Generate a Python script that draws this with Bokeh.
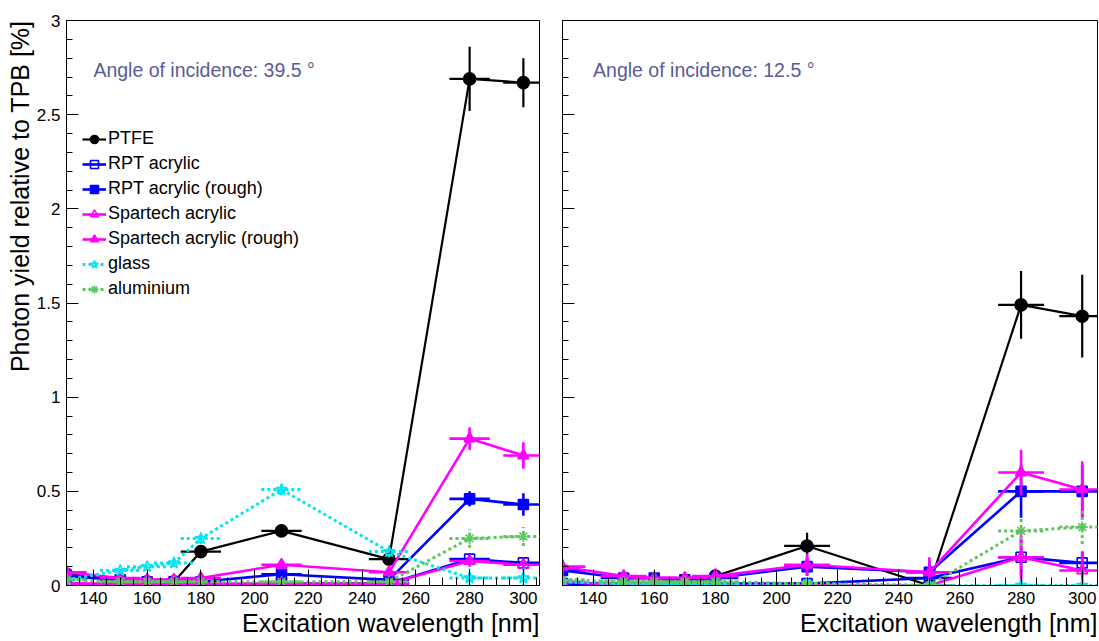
from bokeh.plotting import figure
from bokeh.layouts import row
from bokeh.models import (ColumnDataSource, Legend, LegendItem, Label, Title,
                          SingleIntervalTicker, Range1d, CustomLabelingPolicy)
from bokeh.embed import file_html
from bokeh.resources import INLINE

# Excitation wavelengths [nm] and their half-widths
wavelength = [130, 150, 160, 170, 180, 210, 250, 280, 300]
wavelength_err = [7.5, 7.5, 7.5, 7.5, 7.5, 7.5, 7.5, 7.5, 7.5]

# Photon yield relative to TPB [%], angle of incidence 39.5 deg
ptfe_395 = [0.06, 0.03, 0.02, 0.02, 0.18, 0.29, 0.14, 2.69, 2.67]
ptfe_395_err = [0.01, 0.01, 0.01, 0.01, 0.02, 0.02, 0.02, 0.17, 0.13]
rpt_395 = [0.00, 0.00, 0.00, 0.00, 0.00, 0.01, 0.01, 0.14, 0.12]
rpt_395_err = [0.01, 0.01, 0.01, 0.01, 0.01, 0.01, 0.01, 0.03, 0.03]
rpt_rough_395 = [0.05, 0.03, 0.02, 0.02, 0.02, 0.06, 0.03, 0.46, 0.43]
rpt_rough_395_err = [0.01, 0.01, 0.01, 0.01, 0.01, 0.02, 0.01, 0.04, 0.06]
spartech_395 = [0.01, 0.01, 0.01, 0.01, 0.01, 0.01, 0.01, 0.13, 0.11]
spartech_395_err = [0.01, 0.01, 0.01, 0.01, 0.01, 0.01, 0.01, 0.03, 0.03]
spartech_rough_395 = [0.07, 0.04, 0.03, 0.03, 0.04, 0.11, 0.07, 0.78, 0.69]
spartech_rough_395_err = [0.02, 0.01, 0.01, 0.01, 0.01, 0.02, 0.02, 0.06, 0.07]
glass_395 = [0.03, 0.08, 0.10, 0.12, 0.25, 0.51, 0.18, 0.04, 0.04]
glass_395_err = [0.01, 0.01, 0.01, 0.02, 0.03, 0.03, 0.03, 0.05, 0.05]
alu_395 = [0.03, 0.02, 0.02, 0.02, 0.02, 0.02, 0.02, 0.25, 0.26]
alu_395_err = [0.01, 0.01, 0.01, 0.01, 0.01, 0.01, 0.01, 0.05, 0.05]

# Photon yield relative to TPB [%], angle of incidence 12.5 deg
ptfe_125 = [0.01, 0.01, 0.01, 0.01, 0.05, 0.21, 0.00, 1.49, 1.43]
ptfe_125_err = [0.01, 0.01, 0.01, 0.01, 0.01, 0.07, 0.01, 0.18, 0.22]
rpt_125 = [0.01, 0.01, 0.01, 0.01, 0.01, 0.01, 0.04, 0.15, 0.12]
rpt_125_err = [0.01, 0.01, 0.01, 0.01, 0.01, 0.01, 0.03, 0.10, 0.06]
rpt_rough_125 = [0.08, 0.04, 0.04, 0.03, 0.04, 0.10, 0.07, 0.50, 0.50]
rpt_rough_125_err = [0.03, 0.02, 0.02, 0.02, 0.03, 0.05, 0.06, 0.14, 0.14]
spartech_125 = [0.02, 0.00, 0.00, 0.00, 0.00, 0.00, 0.00, 0.15, 0.08]
spartech_125_err = [0.02, 0.01, 0.01, 0.01, 0.01, 0.01, 0.01, 0.15, 0.10]
spartech_rough_125 = [0.10, 0.05, 0.04, 0.04, 0.05, 0.11, 0.07, 0.60, 0.51]
spartech_rough_125_err = [0.04, 0.02, 0.02, 0.02, 0.04, 0.06, 0.08, 0.12, 0.15]
glass_125 = [0.02, 0.01, 0.01, 0.01, 0.01, 0.01, 0.00, 0.00, 0.00]
glass_125_err = [0.01, 0.01, 0.01, 0.01, 0.01, 0.01, 0.01, 0.01, 0.01]
alu_125 = [0.03, 0.02, 0.02, 0.02, 0.02, 0.01, 0.00, 0.29, 0.31]
alu_125_err = [0.01, 0.01, 0.01, 0.01, 0.01, 0.01, 0.01, 0.08, 0.09]

series_names = ["PTFE", "RPT acrylic", "RPT acrylic (rough)", "Spartech acrylic",
                "Spartech acrylic (rough)", "glass", "aluminium"]

FONT = "Liberation Sans"
ANGLE_COLOR = "#5B5B96"

# name -> (colour, marker, filled, dashed, marker size, line width)
styles = {
    "PTFE": ("black", "circle", True, False, 12, 2.2),
    "RPT acrylic": ("#0000FF", "square", False, False, 10, 2.6),
    "RPT acrylic (rough)": ("#0000FF", "square", True, False, 10, 2.6),
    "Spartech acrylic": ("#FF00FF", "triangle", False, False, 11, 2.6),
    "Spartech acrylic (rough)": ("#FF00FF", "triangle", True, False, 11, 2.6),
    "glass": ("#00E5EE", "star", False, True, 12, 3),
    "aluminium": ("#5CC85C", "asterisk", False, True, 11, 3),
}

data_395 = {
    "PTFE": (ptfe_395, ptfe_395_err),
    "RPT acrylic": (rpt_395, rpt_395_err),
    "RPT acrylic (rough)": (rpt_rough_395, rpt_rough_395_err),
    "Spartech acrylic": (spartech_395, spartech_395_err),
    "Spartech acrylic (rough)": (spartech_rough_395, spartech_rough_395_err),
    "glass": (glass_395, glass_395_err),
    "aluminium": (alu_395, alu_395_err),
}
data_125 = {
    "PTFE": (ptfe_125, ptfe_125_err),
    "RPT acrylic": (rpt_125, rpt_125_err),
    "RPT acrylic (rough)": (rpt_rough_125, rpt_rough_125_err),
    "Spartech acrylic": (spartech_125, spartech_125_err),
    "Spartech acrylic (rough)": (spartech_rough_125, spartech_rough_125_err),
    "glass": (glass_125, glass_125_err),
    "aluminium": (alu_125, alu_125_err),
}

# hides every tick label of an axis while keeping its ticks
no_labels = CustomLabelingPolicy(code="""
    for (const i of indices)
        indices.unset(i)
    return indices
""")


def make_panel(data, angle_text, x_end, frame_width, border_left, border_right,
               show_y_labels, with_legend):
    p = figure(frame_width=frame_width, frame_height=565,
               x_range=Range1d(130, x_end), y_range=Range1d(0, 3),
               output_backend="svg", toolbar_location=None,
               min_border_left=border_left, min_border_right=border_right,
               min_border_top=20, min_border_bottom=56)
    p.xgrid.visible = False
    p.ygrid.visible = False
    p.outline_line_color = "black"
    p.outline_line_width = 1
    p.background_fill_color = "white"
    p.border_fill_color = "white"

    p.xaxis.ticker = SingleIntervalTicker(interval=20, num_minor_ticks=4)
    p.yaxis.ticker = SingleIntervalTicker(interval=0.5, num_minor_ticks=5)
    for ax in (p.xaxis, p.yaxis):
        ax.major_tick_out = 0
        ax.minor_tick_out = 0
        ax.axis_line_color = "black"
        ax.major_tick_line_color = "black"
        ax.minor_tick_line_color = "black"
        ax.major_label_text_font = FONT
        ax.major_label_text_font_size = "17px"
        ax.major_label_text_color = "black"
    p.xaxis.major_tick_in = 16
    p.xaxis.minor_tick_in = 8
    p.yaxis.major_tick_in = 12
    p.yaxis.minor_tick_in = 6
    p.xaxis.major_label_standoff = 6
    p.yaxis.major_label_standoff = 6
    if not show_y_labels:
        p.yaxis.major_label_policy = no_labels
        p.yaxis.major_label_text_font_size = "1px"
        p.yaxis.major_label_standoff = 0

    p.add_layout(Title(text="Excitation wavelength [nm]", align="right",
                       text_font=FONT, text_font_size="25px", text_color="black",
                       text_font_style="normal", standoff=0), "below")
    if show_y_labels:
        p.add_layout(Title(text="Photon yield relative to TPB [%]", align="right",
                           text_font=FONT, text_font_size="25px",
                           text_color="black", text_font_style="normal",
                           standoff=0), "left")

    items = []
    for name in series_names:
        vals, errs = data[name]
        color, marker, filled, dashed, msize, lw = styles[name]
        src = ColumnDataSource(dict(
            x=wavelength, y=vals,
            x0=[w - e for w, e in zip(wavelength, wavelength_err)],
            x1=[w + e for w, e in zip(wavelength, wavelength_err)],
            y0=[v - e for v, e in zip(vals, errs)],
            y1=[v + e for v, e in zip(vals, errs)],
        ))
        dash = "3 3" if dashed else "solid"
        # error bars
        p.segment(x0="x0", y0="y", x1="x1", y1="y", source=src,
                  line_color=color, line_width=lw, line_dash=dash)
        p.segment(x0="x", y0="y0", x1="x", y1="y1", source=src,
                  line_color=color, line_width=lw, line_dash=dash)
        line = p.line("x", "y", source=src, line_color=color, line_width=lw,
                      line_dash=dash)
        pts = p.scatter("x", "y", source=src, marker=marker, size=msize,
                        line_color=color, line_width=1.6,
                        fill_color=color if filled else "white",
                        fill_alpha=1.0 if filled else 0.0)
        items.append(LegendItem(label=name, renderers=[line, pts]))

    p.add_layout(Label(x=140, y=2.735, text=angle_text, text_font=FONT,
                       text_font_size="19.5px", text_color=ANGLE_COLOR,
                       text_baseline="middle", text_align="left"))

    if with_legend:
        legend = Legend(items=items, location=(16, 286),
                        label_text_font=FONT, label_text_font_size="18px",
                        label_text_color="black",
                        label_height=20, glyph_height=20, glyph_width=24,
                        spacing=4, padding=0, margin=0, label_standoff=2,
                        border_line_color=None, background_fill_alpha=0)
        p.add_layout(legend)
    return p


left = make_panel(data_395, "Angle of incidence: 39.5 °", 306, 473, 66, 11,
                  True, True)
right = make_panel(data_125, "Angle of incidence: 12.5 °", 305, 535, 12, 2,
                   False, False)

layout = row(left, right)
open("out.html", "w").write(file_html(layout, INLINE))
